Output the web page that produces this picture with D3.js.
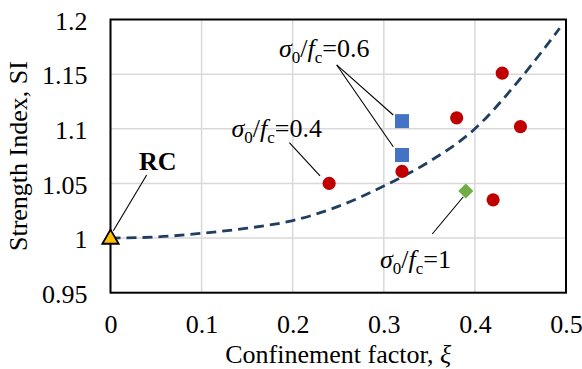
<!DOCTYPE html>
<html><head><meta charset="utf-8">
<script src="https://cdn.jsdelivr.net/npm/d3@7"></script>
</head>
<body style="margin:0;background:#fff"><svg id="c" width="582" height="369"></svg>
<script>
// Data
const redXi = [0.24, 0.32, 0.38, 0.43, 0.45, 0.42];
const redSI = [1.050, 1.061, 1.110, 1.151, 1.102, 1.035];
const blueXi = [0.32, 0.32];
const blueSI = [1.107, 1.076];
const greenXi = [0.39];
const greenSI = [1.043];
const rcXi = [0];
const rcSI = [1.0];
const trendXi = [0, 0.05, 0.1, 0.15, 0.2, 0.25, 0.3, 0.35, 0.4, 0.45, 0.493];
const trendSI = [1.0, 1.001, 1.0044, 1.009, 1.016, 1.029, 1.0476, 1.07, 1.1, 1.146, 1.192];
const xTicks = [0, 0.1, 0.2, 0.3, 0.4, 0.5];
const yTicks = [0.95, 1, 1.05, 1.1, 1.15, 1.2];

const FONT = "Liberation Serif";
const svg = d3.select("#c");
const L = 110.5, R = 566, T = 19.5, B = 292.7;
const x = d3.scaleLinear().domain([0, 0.5]).range([L, R]);
const y = d3.scaleLinear().domain([0.95, 1.2]).range([B, T]);

// grid
svg.append("g").selectAll("line").data(xTicks.slice(1, -1)).join("line")
  .attr("x1", d => x(d)).attr("x2", d => x(d)).attr("y1", T).attr("y2", B)
  .attr("stroke", "#d9d9d9").attr("stroke-width", 1.5);
svg.append("g").selectAll("line").data(yTicks.slice(1, -1)).join("line")
  .attr("y1", d => y(d)).attr("y2", d => y(d)).attr("x1", L).attr("x2", R)
  .attr("stroke", "#d9d9d9").attr("stroke-width", 1.5);

// axes (labels only)
const xAxis = d3.axisBottom(x).tickValues(xTicks).tickSize(0).tickPadding(0).tickFormat(d => d3.format("")(d));
const xa = svg.append("g").attr("transform", `translate(0,${B})`).call(xAxis)
  .attr("font-family", FONT).attr("font-size", 26);
xa.select(".domain").remove();
xa.selectAll("text").attr("y", 40).attr("dy", 0).attr("fill", "#000")
  .attr("font-family", FONT).attr("font-size", 26);
const yAxis = d3.axisLeft(y).tickValues(yTicks).tickSize(0).tickPadding(23).tickFormat(d => d3.format("")(d));
const ya = svg.append("g").attr("transform", `translate(${L},0)`).call(yAxis)
  .attr("font-family", FONT).attr("font-size", 26);
ya.select(".domain").remove();
ya.selectAll("text").attr("dy", "0.37em").attr("fill", "#000")
  .attr("font-family", FONT).attr("font-size", 26);

// frame
svg.append("rect").attr("x", L).attr("y", T).attr("width", R - L).attr("height", B - T)
  .attr("fill", "none").attr("stroke", "#000").attr("stroke-width", 2);

// trend line
const line = d3.line().x(d => x(d[0])).y(d => y(d[1])).curve(d3.curveMonotoneX);
svg.append("path").datum(trendXi.map((v, i) => [v, trendSI[i]]))
  .attr("d", line).attr("fill", "none").attr("stroke", "#203f60")
  .attr("stroke-width", 2.8).attr("stroke-dasharray", "10,6");

// leader lines (data units)
const leaders = [
  [[0.2483, 1.1584], [0.3104, 1.1126]],
  [[0.2483, 1.1584], [0.3104, 1.0836]],
  [[0.1963, 1.0873], [0.230, 1.0568]],
  [[0.3532, 1.0037], [0.3873, 1.0378]],
  [[0.0397, 1.0577], [0.0031, 1.0067]]
];
svg.append("g").selectAll("line").data(leaders).join("line")
  .attr("x1", d => x(d[0][0])).attr("y1", d => y(d[0][1]))
  .attr("x2", d => x(d[1][0])).attr("y2", d => y(d[1][1]))
  .attr("stroke", "#000").attr("stroke-width", 1.1);

// markers
svg.append("g").selectAll("circle").data(redXi.map((v, i) => [v, redSI[i]])).join("circle")
  .attr("cx", d => x(d[0])).attr("cy", d => y(d[1])).attr("r", 6.6).attr("fill", "#c00000");
svg.append("g").selectAll("rect").data(blueXi.map((v, i) => [v, blueSI[i]])).join("rect")
  .attr("x", d => x(d[0]) - 7).attr("y", d => y(d[1]) - 7).attr("width", 14).attr("height", 14).attr("fill", "#4472c4");
svg.append("g").selectAll("path").data(greenXi.map((v, i) => [v, greenSI[i]])).join("path")
  .attr("d", d3.symbol(d3.symbolDiamond2, 145)).attr("transform", d => `translate(${x(d[0])},${y(d[1])})`).attr("fill", "#70ad47");
svg.append("g").selectAll("path").data(rcXi.map((v, i) => [v, rcSI[i]])).join("path")
  .attr("d", d3.symbol(d3.symbolTriangle, 115)).attr("transform", d => `translate(${x(d[0])},${y(d[1]) + 1})`)
  .attr("fill", "#ffc000").attr("stroke", "#000").attr("stroke-width", 1.8).attr("stroke-linejoin", "miter");

// annotation labels
function sigLabel(px, py, val) {
  const t = svg.append("text").attr("x", px).attr("y", py).attr("font-family", FONT).attr("font-size", 26).attr("fill", "#000");
  t.append("tspan").attr("font-style", "italic").text("σ");
  t.append("tspan").attr("font-size", 17).attr("dy", 6).text("0");
  t.append("tspan").attr("dy", -6).text("/");
  t.append("tspan").attr("font-style", "italic").text("f");
  t.append("tspan").attr("font-size", 17).attr("dy", 6).text("c");
  t.append("tspan").attr("dy", -6).text("=" + val);
}
sigLabel(279, 57, "0.6");
sigLabel(231.5, 137, "0.4");
sigLabel(380, 268, "1");
svg.append("text").attr("x", 139).attr("y", 170).attr("font-family", FONT).attr("font-size", 26).attr("font-weight", "bold").text("RC");

// axis titles
const xt = svg.append("text").attr("x", (L + R) / 2).attr("y", 363).attr("text-anchor", "middle")
  .attr("font-family", FONT).attr("font-size", 26);
xt.append("tspan").text("Confinement factor, ");
xt.append("tspan").attr("font-style", "italic").text("ξ");
svg.append("text").attr("transform", `translate(27,${(T + B) / 2}) rotate(-90)`).attr("text-anchor", "middle")
  .attr("font-family", FONT).attr("font-size", 26).text("Strength Index, SI");
</script></body></html>
